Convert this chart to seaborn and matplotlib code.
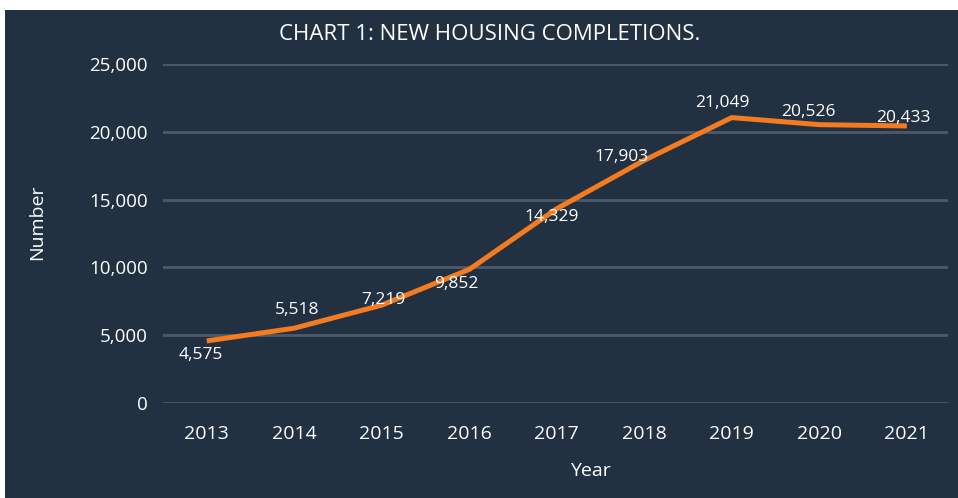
import matplotlib
matplotlib.use("Agg")
import matplotlib.pyplot as plt
import seaborn as sns
import pandas as pd
from matplotlib.patches import Rectangle

# data
years = ["2013", "2014", "2015", "2016", "2017", "2018", "2019", "2020", "2021"]
completions = [4575, 5518, 7219, 9852, 14329, 17903, 21049, 20526, 20433]

# label nudges (pixels) so the numbers sit like in the original
label_offsets = [(-6, -14), (3, 18), (2, 5), (-13, -15), (-5, -8),
                 (-23, 3), (-10, 15), (-11, 13), (-3, 8)]

bg = "#223142"
orange = "#F47B20"
grid = "#4E5A69"

sns.set_theme(style="white")
plt.rcParams["font.family"] = ["Open Sans", "DejaVu Sans"]

df = pd.DataFrame({"Year": years, "Number": completions})

fig = plt.figure(figsize=(9.58, 4.98), dpi=100, facecolor="white")
fig.patches.append(Rectangle((5 / 958, 0), 1, 488 / 498, transform=fig.transFigure,
                             facecolor=bg, edgecolor="none", zorder=-1))
ax = fig.add_axes([163 / 958, 95 / 498, 785 / 958, 339 / 498])
ax.set_facecolor(bg)

sns.lineplot(data=df, x="Year", y="Number", ax=ax, color=orange, linewidth=3.6,
             solid_joinstyle="round", solid_capstyle="butt")

ax.set_ylim(0, 25000)
ax.set_xlim(-0.5, 8.47)
ax.set_yticks(range(0, 25001, 5000))
ax.yaxis.set_major_formatter(matplotlib.ticker.FuncFormatter(lambda v, p: f"{int(v):,}"))
ax.grid(axis="y", color=grid, linewidth=2)
ax.set_axisbelow(True)
for s in ax.spines.values():
    s.set_visible(False)
ax.tick_params(axis="y", length=0, pad=11, colors="white", labelsize=13.5)
ax.tick_params(axis="x", length=0, pad=16, colors="white", labelsize=14)

for i, (v, off) in enumerate(zip(completions, label_offsets)):
    ax.annotate(f"{v:,}", (i, v), xytext=off, textcoords="offset pixels",
                ha="center", va="center", color="white", fontsize=12.5)

ax.set_xlabel("Year", color="white", fontsize=14)
ax.set_ylabel("Number", color="white", fontsize=14)
ax.xaxis.set_label_coords(0.544, -0.174)
ax.yaxis.set_label_coords(-0.149, 0.534)

fig.text(490 / 958, 1 - 35 / 498, "CHART 1: NEW HOUSING COMPLETIONS.", color="white",
         ha="center", va="center", fontsize=16)

fig.savefig("out.png", dpi=100, facecolor=fig.get_facecolor())
